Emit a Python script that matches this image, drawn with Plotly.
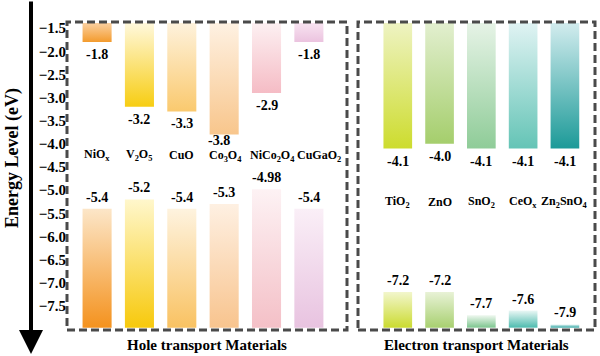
import plotly.graph_objects as go

# ---------------- data ----------------
htm_names = ["NiO<sub>x</sub>", "V<sub>2</sub>O<sub>5</sub>", "CuO", "Co<sub>3</sub>O<sub>4</sub>",
             "NiCo<sub>2</sub>O<sub>4</sub>", "CuGaO<sub>2</sub>"]
htm_lumo = [-1.8, -3.2, -3.3, -3.8, -2.9, -1.8]
htm_homo = [-5.4, -5.2, -5.4, -5.3, -4.98, -5.4]

etm_names = ["TiO<sub>2</sub>", "ZnO", "SnO<sub>2</sub>", "CeO<sub>x</sub>", "Zn<sub>2</sub>SnO<sub>4</sub>"]
etm_lumo = [-4.1, -4.0, -4.1, -4.1, -4.1]
etm_homo = [-7.2, -7.2, -7.7, -7.6, -7.9]

y_ticks = [-1.5, -2.0, -2.5, -3.0, -3.5, -4.0, -4.5, -5.0, -5.5, -6.0, -6.5, -7.0, -7.5]

# ---------------- styling ----------------
htm_lumo_colors = [("#FBD0A0", "#F39B2D"), ("#FFF8DC", "#F7CD12"), ("#FEF2DC", "#FAC96E"),
                   ("#FEF1E2", "#F8C68C"), ("#FDF0F2", "#F5BCC5"), ("#F8E3F1", "#EBC3DF")]
htm_homo_colors = [("#FCE6C8", "#F4921E"), ("#FFF7CC", "#F7C90C"), ("#FEF3DF", "#F9C262"),
                   ("#FEF0E2", "#F8C48E"), ("#FDF2F4", "#F4C0C7"), ("#FAEFF7", "#E8C3E0")]
etm_lumo_colors = [("#EEF3C2", "#CDDC2E"), ("#E2EFCF", "#A5CE6C"), ("#E6F3E6", "#8FCC98"),
                   ("#E0F3F3", "#64C4B6"), ("#D2ECEE", "#1C9A98")]
etm_homo_colors = [("#F2F6CC", "#CBDB30"), ("#E8F2D6", "#A8D070"), ("#F0F8F0", "#7CC58E"),
                   ("#EAF7F5", "#4DBBAE"), ("#E8F6F6", "#2CA3A0")]

FONT = "Liberation Serif"
Y_RANGE = [-8.02, -1.368]
BAND_TOP = -1.39
BAND_BOTTOM = -7.97
HALF_W = 0.343
HTM_NAME_Y = [-4.24, -4.24, -4.24, -4.27, -4.27, -4.27]
HTM_NAME_XSHIFT = [0, 0, 0, 1, 6, 10]
HTM_LUMO_YSHIFT = [-3, -3, -3, 4, -3, -3]
HTM_LUMO_XSHIFT = [0, 0, 0, -5, 0, 0]
ETM_NAME_Y = -5.26

W, H = 600, 356
htm_dom = [67 / W, 347 / W]
etm_dom = [358 / W, 595 / W]
y_dom = [1 - 330 / H, 1 - 22 / H]


def fmt(v):
    s = f"{v:.2f}"
    return s[:-1] if s.endswith("0") else s


fig = go.Figure()


def rect(xc, y0, y1, cols, xa, ya):
    lo, hi = min(y0, y1), max(y0, y1)
    fig.add_trace(go.Scatter(
        x=[xc - HALF_W, xc + HALF_W, xc + HALF_W, xc - HALF_W, xc - HALF_W],
        y=[hi, hi, lo, lo, hi], mode="lines", line=dict(width=0),
        fill="toself",
        fillgradient=dict(type="vertical", colorscale=[[0, cols[1]], [1, cols[0]]],
                          start=lo, stop=hi),
        xaxis=xa, yaxis=ya, hoverinfo="skip", showlegend=False))


annots = []
label_font = dict(family=FONT, size=14, color="black", weight="bold")
name_font = dict(family=FONT, size=12, color="black", weight="bold")

for i, (nm, lu, ho) in enumerate(zip(htm_names, htm_lumo, htm_homo)):
    rect(i, BAND_TOP, lu, htm_lumo_colors[i], "x", "y")
    rect(i, ho, BAND_BOTTOM, htm_homo_colors[i], "x", "y")
    annots.append(dict(x=i, y=lu, xref="x", yref="y", text=fmt(lu), showarrow=False,
                       xanchor="center", yanchor="top", yshift=HTM_LUMO_YSHIFT[i],
                       xshift=HTM_LUMO_XSHIFT[i], font=label_font))
    annots.append(dict(x=i, y=ho, xref="x", yref="y", text=fmt(ho), showarrow=False,
                       xanchor="center", yanchor="bottom", yshift=2, font=label_font))
    annots.append(dict(x=i, y=HTM_NAME_Y[i], xref="x", yref="y", text=nm, showarrow=False,
                       xanchor="center", yanchor="middle", xshift=HTM_NAME_XSHIFT[i],
                       font=name_font))

for i, (nm, lu, ho) in enumerate(zip(etm_names, etm_lumo, etm_homo)):
    rect(i, BAND_TOP, lu, etm_lumo_colors[i], "x2", "y2")
    rect(i, ho, BAND_BOTTOM, etm_homo_colors[i], "x2", "y2")
    annots.append(dict(x=i, y=lu, xref="x2", yref="y2", text=fmt(lu), showarrow=False,
                       xanchor="center", yanchor="top", yshift=-3, font=label_font))
    annots.append(dict(x=i, y=ho, xref="x2", yref="y2", text=fmt(ho), showarrow=False,
                       xanchor="center", yanchor="bottom", yshift=2, font=label_font))
    annots.append(dict(x=i, y=ETM_NAME_Y, xref="x2", yref="y2", text=nm, showarrow=False,
                       xanchor="center", yanchor="middle", font=name_font))

# group titles
title_font = dict(family=FONT, size=15, color="black", weight="bold")
annots.append(dict(x=sum(htm_dom) / 2, y=1 - 345 / H, xref="paper", yref="paper",
                   xanchor="center", yanchor="middle",
                   text="Hole transport Materials", showarrow=False, font=title_font))
annots.append(dict(x=sum(etm_dom) / 2, y=1 - 345 / H, xref="paper", yref="paper",
                   xanchor="center", yanchor="middle",
                   text="Electron transport Materials", showarrow=False, font=title_font))
# y axis title
annots.append(dict(x=12 / W, y=1 - 158 / H, xref="paper", yref="paper", textangle=-90,
                   xanchor="center", yanchor="middle",
                   text="Energy Level (eV)", showarrow=False,
                   font=dict(family=FONT, size=18, color="black", weight="bold")))
# energy arrow
annots.append(dict(x=31 / W, y=1 - 354 / H, xref="paper", yref="paper", ax=0, ay=-354,
                   axref="pixel", ayref="pixel", showarrow=True, arrowhead=2,
                   arrowsize=1.2, arrowwidth=4, arrowcolor="black", text=""))

box_line = dict(color="#4a4a4a", width=3, dash="8px,4px")
shapes = [
    dict(type="rect", xref="x domain", yref="y domain", x0=0, x1=1, y0=0, y1=1, line=box_line),
    dict(type="rect", xref="x2 domain", yref="y2 domain", x0=0, x1=1, y0=0, y1=1, line=box_line),
]

fig.update_layout(
    width=W, height=H, margin=dict(l=0, r=0, t=0, b=0),
    paper_bgcolor="white", plot_bgcolor="white",
    xaxis=dict(domain=htm_dom, range=[-0.71, 5.9], visible=False),
    xaxis2=dict(domain=etm_dom, range=[-0.952, 4.72], visible=False, anchor="y2"),
    yaxis=dict(domain=y_dom, range=Y_RANGE, tickvals=y_ticks, tickformat=".1f",
               showgrid=False, zeroline=False, showline=False, ticks="",
               automargin=False, anchor="x",
               tickfont=dict(family=FONT, size=15, color="black", weight="bold")),
    yaxis2=dict(domain=y_dom, range=Y_RANGE, visible=False, anchor="x2"),
    annotations=annots, shapes=shapes,
)

fig.write_html("out.html", config={"displayModeBar": False},
               post_script="document.body.style.margin='0px';document.body.style.overflow='hidden';")
